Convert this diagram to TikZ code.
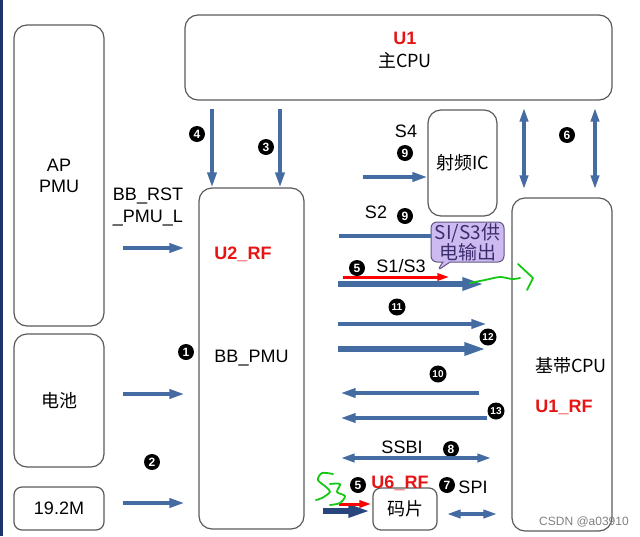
\documentclass[tikz,border=0pt]{standalone}
\usepackage{fontspec}
\setmainfont{Liberation Sans}
\newfontfamily\cjk{Noto Sans CJK SC}
\usetikzlibrary{arrows.meta, positioning, calc, shapes.callouts}
\definecolor{boxgray}{RGB}{90, 90, 90}
\definecolor{arrowblue}{RGB}{68, 108, 162}
\definecolor{darkarrow}{RGB}{40, 70, 125}
\definecolor{labelred}{RGB}{230, 20, 20}
\definecolor{calloutfill}{RGB}{204, 186, 240}
\definecolor{calloutdraw}{RGB}{100, 85, 130}
\definecolor{callouttext}{RGB}{60, 45, 110}
\definecolor{markgreen}{RGB}{20, 200, 20}
\definecolor{edgeblue}{RGB}{30, 50, 110}
\tikzstyle{box} = [rectangle, draw=boxgray, rounded corners=13pt, line width=1.2pt, inner sep=0pt, font=\fontsize{18}{21}\selectfont, align=center]
\tikzstyle{lbl} = [font=\fontsize{18}{21}\selectfont, align=center, inner sep=0pt]
\tikzstyle{cjklbl} = [lbl, font=\cjk\fontsize{18}{21}\selectfont]
\tikzstyle{redlbl} = [lbl, text=labelred, font=\fontsize{18}{21}\selectfont\bfseries]
\tikzstyle{num} = [circle, fill=black, text=white, inner sep=0pt, minimum size=16pt, font=\fontsize{12}{12}\selectfont\bfseries]
\tikzstyle{numwide} = [num, minimum size=17pt, font=\fontsize{10}{10}\selectfont\bfseries]
\tikzstyle{arrow} = [-{Triangle[length=15pt, width=9pt]}, line width=3.5pt, draw=arrowblue]
\tikzstyle{thickarrow} = [-{Triangle[length=22pt, width=12pt]}, line width=6pt, draw=arrowblue]
\tikzstyle{dblarrow} = [{Triangle[length=14pt, width=8pt]}-{Triangle[length=14pt, width=8pt]}, line width=3.5pt, draw=arrowblue]
\tikzstyle{redarrow} = [-{Triangle[length=12pt, width=7pt]}, line width=3pt, draw=red]
\tikzstyle{scribble} = [markgreen, line width=1.8pt, line cap=round, line join=round]

\begin{document}
\begin{tikzpicture}[x=1pt, y=-1pt]
    \useasboundingbox (0,0) rectangle (640,536);
    \fill[edgeblue] (0,0) rectangle (3,536);

    % Main CPU
    \node[box, minimum width=427pt, minimum height=85pt] (u1) at (398.5,57.5) {};
    \node[redlbl] (u1name) at (405,38) {U1};
    \node[cjklbl] (u1text) at (405,60) {主CPU};

    % Left column
    \node[box, minimum width=90pt, minimum height=301pt] (ap) at (59,175.5) {AP\\PMU};
    \node[box, font=\cjk\fontsize{18}{21}\selectfont, minimum width=90pt, minimum height=133pt] (bat) at (59,400.5) {电池};
    \node[box, rounded corners=8pt, minimum width=90pt, minimum height=43pt] (osc) at (59,508.5) {19.2M};

    % BB PMU
    \node[box, minimum width=105pt, minimum height=341pt] (u2) at (251.5,358.5) {BB\_PMU};
    \node[redlbl] (u2rf) at (243,254) {U2\_RF};

    % RF IC
    \node[box, font=\cjk\fontsize{18}{21}\selectfont, minimum width=69pt, minimum height=106pt] (rfic) at (462.5,163) {射频IC};

    % Baseband CPU
    \node[box, minimum width=100pt, minimum height=333pt] (bb) at (562,364.5) {};
    \node[cjklbl] (bbtext) at (571,366) {基带CPU};
    \node[redlbl] (u1rf) at (564,407) {U1\_RF};

    % Code chip
    \node[box, rounded corners=8pt, font=\cjk\fontsize{18}{21}\selectfont, minimum width=64pt, minimum height=42pt] (chip) at (405,509) {码片};

    % Callout
    \node[rectangle callout, fill=calloutfill, draw=calloutdraw, line width=1pt, rounded corners=6pt, text=callouttext, minimum width=73pt, minimum height=40pt, inner sep=1pt, align=center, callout absolute pointer={(437,271)}, font=\cjk\fontsize{19}{20}\selectfont] (note) at (467.5,242) {SI/S3供\\电输出};

    % Inputs of BB PMU
    \node[lbl] (bbrst) at (148,207) {BB\_RST\\\_PMU\_L};
    \draw[arrow, shorten <=18pt, shorten >=14pt] (ap.east |- 0,248) -- (u2.west |- 0,248);
    \draw[arrow, shorten <=18pt, shorten >=14pt] (bat.east |- 0,394) -- (u2.west |- 0,394);
    \draw[arrow, shorten <=18pt, shorten >=14pt] (osc.east |- 0,503) -- (u2.west |- 0,503);
    \node[num] (n1) at (186,352) {1};
    \node[num] (n2) at (152,462) {2};

    % U1 to BB PMU
    \draw[arrow, shorten <=8pt] (u1.south -| 212,0) -- (u2.north -| 212,0);
    \draw[arrow, shorten <=8pt] (u1.south -| 280,0) -- (u2.north -| 280,0);
    \node[num] (n4) at (197,134) {4};
    \node[num] (n3) at (266,147) {3};

    % U1 to baseband
    \draw[dblarrow, shorten <=7pt, shorten >=8pt] (u1.south -| 524,0) -- (bb.north -| 524,0);
    \draw[dblarrow, shorten <=7pt, shorten >=8pt] (u1.south -| 595,0) -- (bb.north -| 595,0);
    \node[num] (n6) at (567,135) {6};

    % S4 and S2
    \node[lbl] (s4) at (406,131) {S4};
    \node[num] (n9a) at (405,153) {9};
    \draw[arrow, shorten <=58pt] (u2.east |- 0,177) -- (rfic.west |- 0,177);
    \node[lbl] (s2) at (376,212) {S2};
    \node[num] (n9b) at (405,216) {9};
    \draw[arrowblue, line width=3.5pt, shorten <=34pt] (u2.east |- 0,236) -- (note.west |- 0,236);

    % S1/S3
    \node[num] (n5a) at (357,268) {5};
    \node[lbl] (s13) at (401,266) {S1/S3};
    \draw[thickarrow, shorten <=33pt, shorten >=27pt] (u2.east |- 0,284) -- (bb.west |- 0,284);
    \draw[redarrow, shorten <=38pt, shorten >=62pt] (u2.east |- 0,277) -- (bb.west |- 0,277);

    % Lines 11 to 13
    \node[numwide] (n11) at (397,307) {11};
    \draw[arrow, shorten <=33pt, shorten >=25pt] (u2.east |- 0,324) -- (bb.west |- 0,324);
    \node[numwide] (n12) at (488,337) {12};
    \draw[thickarrow, shorten <=33pt, shorten >=25pt] (u2.east |- 0,349) -- (bb.west |- 0,349);
    \node[numwide] (n10) at (438,374) {10};
    \draw[arrow, shorten <=32pt, shorten >=36pt] (bb.west |- 0,393) -- (u2.east |- 0,393);
    \node[numwide] (n13) at (496,411) {13};
    \draw[arrow, shorten <=24pt, shorten >=36pt] (bb.west |- 0,418) -- (u2.east |- 0,418);

    % SSBI
    \node[lbl] (ssbi) at (402,447) {SSBI};
    \node[num] (n8) at (451,449) {8};
    \draw[dblarrow, shorten <=36pt, shorten >=20pt] (u2.east |- 0,458) -- (bb.west |- 0,458);

    % Code chip links
    \node[num] (n5b) at (358,485) {5};
    \node[redlbl] (u6rf) at (400,483) {U6\_RF};
    \node[num] (n7) at (447,485) {7};
    \node[lbl] (spi) at (473,487) {SPI};
    \draw[thickarrow, draw=darkarrow, shorten <=18pt, shorten >=2pt] (u2.east |- 0,511) -- (chip.west |- 0,511);
    \draw[redarrow, shorten <=34pt, shorten >=1pt] (u2.east |- 0,504) -- (chip.west |- 0,504);
    \draw[dblarrow, shorten <=9pt, shorten >=14pt] (chip.east |- 0,514) -- (bb.west |- 0,514);

    % Hand marks
    \draw[scribble] plot[smooth] coordinates {(470,283) (485,280) (500,277) (512,279) (520,278)};
    \draw[scribble] (518,264) -- (533,278) -- (527,290);
    \draw[scribble] plot[smooth] coordinates {(333,474) (322,473) (318,480) (326,487) (330,492) (322,498) (316,500)};
    \draw[scribble] plot[smooth] coordinates {(330,484) (340,484) (337,492) (345,496) (340,503) (330,505)};

    % Watermark
    \node[font=\fontsize{12}{12}\selectfont, text=gray, inner sep=0pt] (mark) at (584,522) {CSDN @a03910};
\end{tikzpicture}
\end{document}
